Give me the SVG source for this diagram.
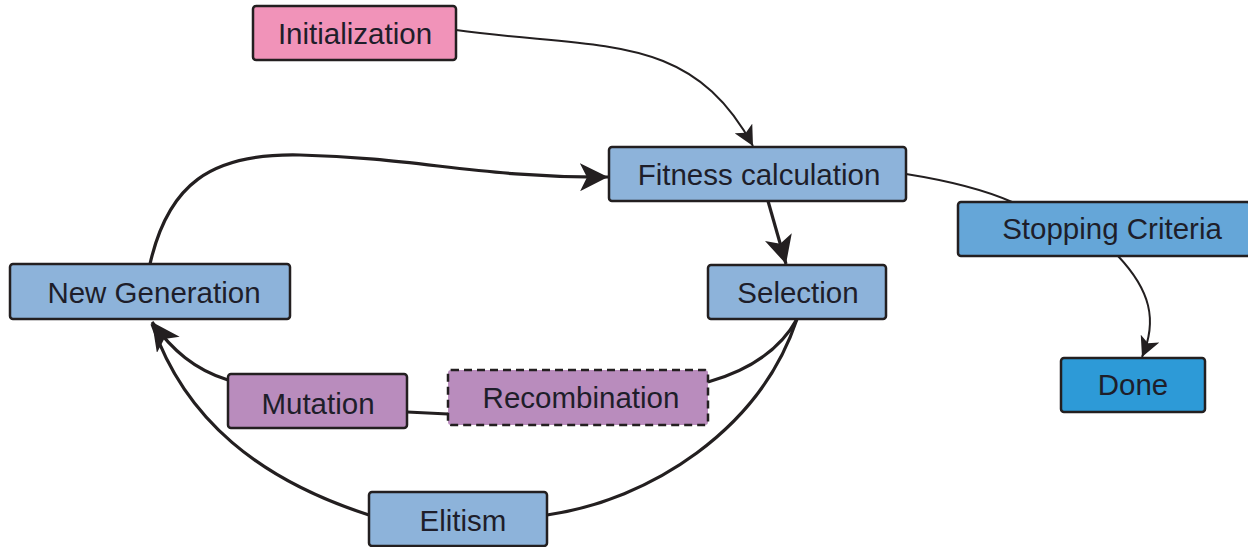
<svg xmlns="http://www.w3.org/2000/svg" width="1248" height="547" viewBox="0 0 1248 547">
<defs>
<style>
.box{stroke:#231f20;stroke-width:2.5}
.blue{fill:#8db3da}
.stop{fill:#65a6d8}
.done{fill:#2d9ad7}
.pink{fill:#f193b9}
.purple{fill:#b98cbd}
.dash{stroke-dasharray:8 5}
.lbl{font-family:"Liberation Sans",Arial,sans-serif;font-size:29.5px;fill:#1e1e2a;text-anchor:middle;dominant-baseline:central}
.thin{fill:none;stroke:#231f20;stroke-width:2}
.thick{fill:none;stroke:#231f20;stroke-width:3.2}
</style>
<marker id="ahs" viewBox="0 0 10 10" refX="10" refY="5" markerWidth="20" markerHeight="20" markerUnits="userSpaceOnUse" orient="auto"><path d="M0,0 L10,5 L0,10 L2.5,5 z" fill="#231f20"/></marker>
<marker id="ahb" viewBox="0 0 10 10" refX="10" refY="5" markerWidth="28" markerHeight="28" markerUnits="userSpaceOnUse" orient="auto"><path d="M0,0 L10,5 L0,10 L2.5,5 z" fill="#231f20"/></marker>
</defs>
<g id="connectors">
<path class="thin" d="M456,30 C600,50 690,30 753,146" marker-end="url(#ahs)"/>
<path class="thick" d="M150,264 C168,185 210,153 300,155 C420,158 480,178 608,177" marker-end="url(#ahb)"/>
<path class="thick" d="M768,201 L786,264" marker-end="url(#ahb)"/>
<path class="thin" d="M906,174 C950,181 985,190 1012,202"/>
<path class="thin" d="M1118,256 C1150,290 1158,320 1142,357" marker-end="url(#ahs)"/>
<path class="thick" d="M797,319 C780,350 750,370 708,382"/>
<path class="thick" d="M797,319 C760,430 650,500 547,515"/>
<path class="thick" d="M448,414 L407,412"/>
<path class="thick" d="M228,380 C195,370 172,350 152,322" marker-end="url(#ahb)"/>
<path class="thick" d="M369,515 C260,480 185,420 152,324"/>
</g>
<g id="initialization"><rect class="box pink" x="253" y="6" width="203" height="54" rx="3"/><text class="lbl" x="355" y="33">Initialization</text></g>
<g id="fitness"><rect class="box blue" x="609" y="147" width="297" height="54" rx="3"/><text class="lbl" x="759" y="174">Fitness calculation</text></g>
<g id="stopping"><rect class="box stop" x="958" y="202" width="292" height="54" rx="3"/><text class="lbl" x="1112" y="228">Stopping Criteria</text></g>
<g id="selection"><rect class="box blue" x="708" y="265" width="178" height="54" rx="3"/><text class="lbl" x="798" y="292">Selection</text></g>
<g id="newgen"><rect class="box blue" x="10" y="264" width="280" height="55" rx="3"/><text class="lbl" x="154" y="292">New Generation</text></g>
<g id="done"><rect class="box done" x="1061" y="358" width="144" height="54" rx="3"/><text class="lbl" x="1133" y="384">Done</text></g>
<g id="mutation"><rect class="box purple" x="228" y="374" width="179" height="54" rx="3"/><text class="lbl" x="318" y="403">Mutation</text></g>
<g id="recombination"><rect class="box purple dash" x="448" y="370" width="260" height="55" rx="3"/><text class="lbl" x="581" y="397">Recombination</text></g>
<g id="elitism"><rect class="box blue" x="369" y="492" width="178" height="54" rx="3"/><text class="lbl" x="463" y="520">Elitism</text></g>
</svg>
